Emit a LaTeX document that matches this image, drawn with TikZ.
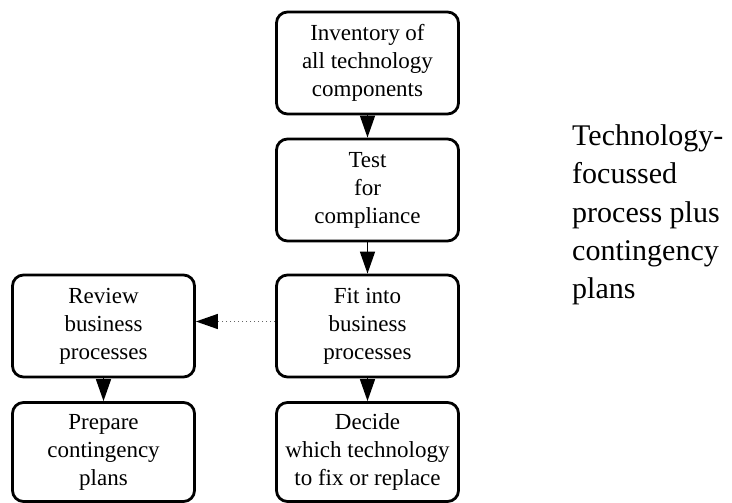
\documentclass[tikz,border=0pt]{standalone}
\usepackage{fontspec}
\setmainfont{Liberation Serif}
\usetikzlibrary{arrows.meta}
\begin{document}
\begin{tikzpicture}[x=1pt,y=-1pt,
  stepbox/.style={draw, line width=2.8pt, rounded corners=11pt, minimum width=182pt,
    minimum height=102pt, inner sep=0pt, align=center,
    font=\fontsize{23}{28}\selectfont},
  flow/.style={line width=1.6pt, -{Triangle[length=22pt,width=15pt]}},
  side/.style={line width=1.4pt, black!60, dash pattern=on 1.5pt off 2.5pt,
    -{Triangle[length=22pt,width=15pt,color=black,fill=black]}}]
\useasboundingbox (0,0) rectangle (732,503);
\node[stepbox] (inv) at (367.5,63) {Inventory of\\all technology\\components};
\node[stepbox] (test) at (367.5,190) {Test\\for\\compliance};
\node[stepbox] (fit) at (367.5,326) {Fit into\\business\\processes};
\node[stepbox, minimum height=99pt] (decide) at (367.5,452) {Decide\\which technology\\to fix or replace};
\node[stepbox] (review) at (103.5,326) {Review\\business\\processes};
\node[stepbox, minimum height=99pt] (prep) at (103.5,452) {Prepare\\contingency\\plans};
\draw[flow] (inv) -- (test);
\draw[flow] (test) -- (fit);
\draw[flow] (fit) -- (decide);
\draw[flow] (review) -- (prep);
\draw[side] (fit.west |- 0,321.5) -- (review.east |- 0,321.5);
\node[anchor=north west, inner sep=0pt, align=left,
  font=\fontsize{30}{38.3}\selectfont] (note) at (572,124.5)
  {Technology-\\focussed\\process plus\\contingency\\plans};
\end{tikzpicture}
\end{document}
